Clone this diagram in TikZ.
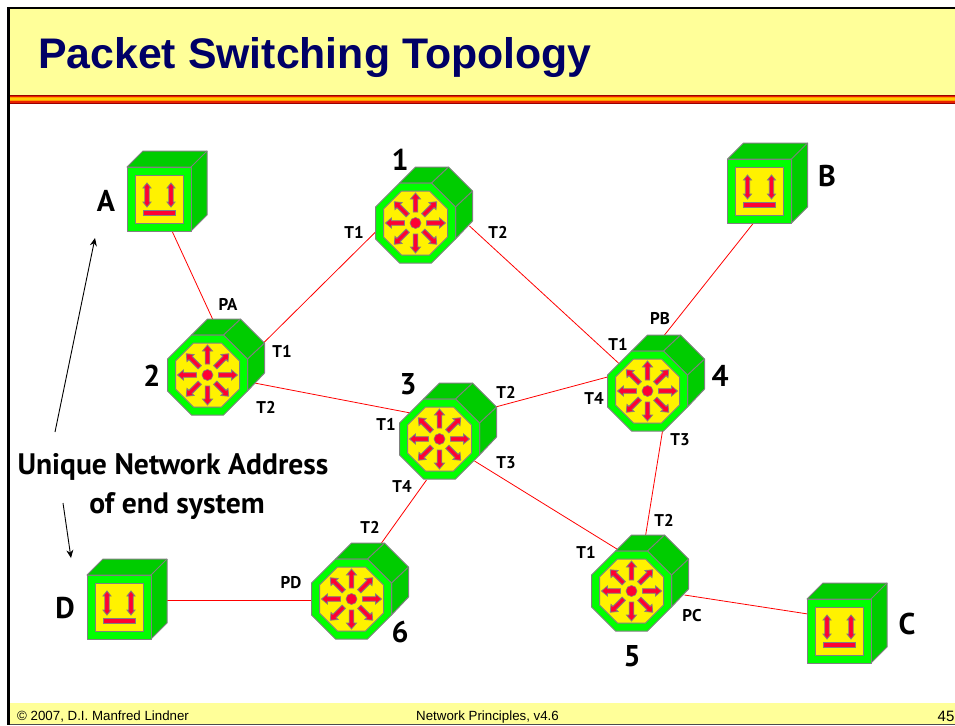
\documentclass[tikz,border=0pt]{standalone}
\usepackage{fontspec}
\setmainfont{Liberation Sans}
\newfontfamily\labfont{PT Sans}
\usetikzlibrary{arrows.meta}
\pgfdeclarelayer{bg}
\pgfsetlayers{bg,main}
\definecolor{gfront}{HTML}{00FF00}
\definecolor{gside}{HTML}{00CC00}
\definecolor{edgegray}{HTML}{808080}
\definecolor{arrowred}{HTML}{FF0033}
\definecolor{slideyellow}{HTML}{FFFF99}
\definecolor{titleblue}{HTML}{000066}
\definecolor{banddark}{HTML}{990000}
\definecolor{bandred}{HTML}{E82000}
\definecolor{bandorange}{HTML}{FF9900}
\definecolor{bandyellow}{HTML}{FFCC00}
\tikzset{
  x=1pt,y=-1pt,
  anchorbox/.style={inner sep=0pt,minimum size=81pt,draw=none},
  face/.style={draw=edgegray,line width=1pt,line join=round},
  arrowface/.style={draw=edgegray,line width=0.8pt,fill=arrowred,line join=miter},
  link/.style={draw=red,line width=0.8pt},
  note/.style={-{Stealth[length=8pt,width=7pt]},black,line width=0.9pt},
  biglabel/.style={font=\labfont\bfseries\fontsize{30}{30}\selectfont,inner sep=0pt,anchor=center},
  portlabel/.style={font=\labfont\bfseries\fontsize{17}{17}\selectfont,inner sep=0pt,anchor=center},
  addrlabel/.style={font=\labfont\bfseries\fontsize{29.6}{30}\selectfont,inner sep=0pt,anchor=base},
  foot/.style={font=\fontsize{13.3}{14}\selectfont,inner sep=0pt,anchor=base west},
}
\newcommand{\routerdev}[3]{%
\begin{scope}[shift={(#2,#3)}]
  \node[anchorbox] (#1) at (0,0) {};
  \draw[face,fill=gside] (-16,-40) -- (0,-56) -- (33,-56) -- (57,-32) -- (57,-2) -- (40,16) -- (40,-16) -- (16,-40) -- cycle;
  \draw[face] (16,-40) -- (33,-56) (40,-16) -- (57,-32);
  \draw[face,fill=gfront] (-16,-40) -- (16,-40) -- (40,-16) -- (40,16) -- (16,40) -- (-16,40) -- (-40,16) -- (-40,-16) -- cycle;
  \draw[face,fill=yellow] (-14,-32) -- (14,-32) -- (32,-14) -- (32,14) -- (14,32) -- (-14,32) -- (-32,14) -- (-32,-14) -- cycle;
  \foreach \a in {0,45,...,315}{
    \draw[arrowface,rotate=\a]
      (11,-2.3) -- (24,-2.3) -- (24,-5) -- (30,0) -- (24,5) -- (24,2.3) -- (11,2.3) -- cycle;
  }
  \draw[draw=edgegray,line width=0.6pt,fill=arrowred] (0,0) circle[radius=5.5];
\end{scope}}
\newcommand{\hostdev}[3]{%
\begin{scope}[shift={(#2,#3)}]
  \node[anchorbox,minimum size=65pt] (#1) at (0,0) {};
  \draw[face,fill=gside] (-32,-32) -- (-16,-48) -- (48,-48) -- (48,16) -- (32,32) -- (32,-32) -- cycle;
  \draw[face] (32,-32) -- (48,-48);
  \draw[face,fill=gfront] (-32,-32) rectangle (32,32);
  \draw[face,fill=yellow] (-24,-24) rectangle (24,24);
  \foreach \dx in {-12,12}{
    \draw[arrowface,shift={(\dx,-4)}]
      (-2.2,-7) -- (-4,-7) -- (0,-12) -- (4,-7) -- (2.2,-7) -- (2.2,7) -- (4,7) -- (0,12) -- (-4,7) -- (-2.2,7) -- cycle;
  }
  \draw[draw=edgegray,line width=0.6pt,fill=arrowred] (-16,11) rectangle (16,16);
\end{scope}}
\begin{document}
\begin{tikzpicture}
\useasboundingbox (0,0) rectangle (955,725);
\begin{pgfonlayer}{bg}
  \fill[white] (0,0) rectangle (955,725);
  \fill[slideyellow] (9,9) rectangle (955,95);
  \foreach \ya/\yb/\c in {95/96/banddark,96/97/bandred,97/98/bandorange,98/100/bandyellow,100/101/bandorange,101/102.5/bandred,102.5/104/banddark}{
    \fill[\c] (7,\ya) rectangle (955,\yb);
  }
  \fill[slideyellow] (9,703) rectangle (955,724);
  \draw[line width=0.8pt,black!70] (9,724) -- (955,724);
  \fill[black] (7,7) rectangle (955,9.5);
  \fill[black] (7,7) rectangle (9.5,725);
\end{pgfonlayer}

\node[font=\fontsize{42.8}{44}\selectfont\bfseries,text=titleblue,inner sep=0pt,anchor=base west] (title) at (38,69) {Packet Switching Topology};

\routerdev{r1}{415.5}{223}
\routerdev{r2}{207.5}{375}
\routerdev{r3}{439.5}{439}
\routerdev{r4}{647.5}{391}
\routerdev{r5}{631.5}{591}
\routerdev{r6}{351.5}{599}
\hostdev{hA}{159}{199}
\hostdev{hB}{759.5}{191}
\hostdev{hC}{839}{631}
\hostdev{hD}{119}{607}

\begin{pgfonlayer}{bg}
  \draw[link] ([shift={(13,32)}]hA.center) -- ([shift={(6,-54)}]r2.center);
  \draw[link] ([shift={(55,-31)}]r2.center) -- ([shift={(-40,9)}]r1.center);
  \draw[link] ([shift={(54,3)}]r1.center) -- ([shift={(-28,-27)}]r4.center);
  \draw[link] ([shift={(47,8)}]r2.center) -- ([shift={(-29,-26)}]r3.center);
  \draw[link] ([shift={(56,-32)}]r3.center) -- ([shift={(-40,-14)}]r4.center);
  \draw[link] ([shift={(-13,41)}]r3.center) -- ([shift={(30,-56)}]r6.center);
  \draw[link] ([shift={(35,22)}]r3.center) -- ([shift={(-13,-41)}]r5.center);
  \draw[link] ([shift={(15,40)}]r4.center) -- ([shift={(14,-55)}]r5.center);
  \draw[link] ([shift={(-6,32)}]hB.center) -- ([shift={(17,-56)}]r4.center);
  \draw[link] ([shift={(31,-7)}]hD.center) -- ([shift={(-39,1)}]r6.center);
  \draw[link] ([shift={(53,4)}]r5.center) -- ([shift={(-31,-17)}]hC.center);
\end{pgfonlayer}

\node[biglabel] (lA) at (106,201) {A};
\node[biglabel] (lB) at (827,176) {B};
\node[biglabel] (lC) at (907,624) {C};
\node[biglabel] (lD) at (65,608) {D};
\node[biglabel] (n1) at (400,160) {1};
\node[biglabel] (n2) at (152,376) {2};
\node[biglabel] (n3) at (408,384) {3};
\node[biglabel] (n4) at (720,376) {4};
\node[biglabel] (n5) at (632,656) {5};
\node[biglabel] (n6) at (400,632) {6};

\node[portlabel] at (354,232) {T1};
\node[portlabel] at (498,232) {T2};
\node[portlabel] at (228,304) {PA};
\node[portlabel] at (282,351) {T1};
\node[portlabel] at (266,407) {T2};
\node[portlabel] at (660,319) {PB};
\node[portlabel] at (618,344) {T1};
\node[portlabel] at (506,392) {T2};
\node[portlabel] at (594,399) {T4};
\node[portlabel] at (386,424) {T1};
\node[portlabel] at (506,463) {T3};
\node[portlabel] at (680,440) {T3};
\node[portlabel] at (402,487) {T4};
\node[portlabel] at (370,527) {T2};
\node[portlabel] at (664,520) {T2};
\node[portlabel] at (586,552) {T1};
\node[portlabel] at (291,583) {PD};
\node[portlabel] at (692,616) {PC};

\node[addrlabel] (addr1) at (173,474) {Unique Network Address};
\node[addrlabel] (addr2) at (177,513) {of end system};
\coordinate (upStart) at (55,432);
\coordinate (upTip) at (95,238);
\coordinate (downStart) at (63,503);
\coordinate (downTip) at (71,558);
\draw[note] (upStart) -- (upTip);
\draw[note] (downStart) -- (downTip);

\node[foot] at (17,720) {© 2007, D.I. Manfred Lindner};
\node[foot] at (416,720) {Network Principles, v4.6};
\node[foot,font=\fontsize{15}{15}\selectfont] at (937.5,721) {45};
\end{tikzpicture}
\end{document}
